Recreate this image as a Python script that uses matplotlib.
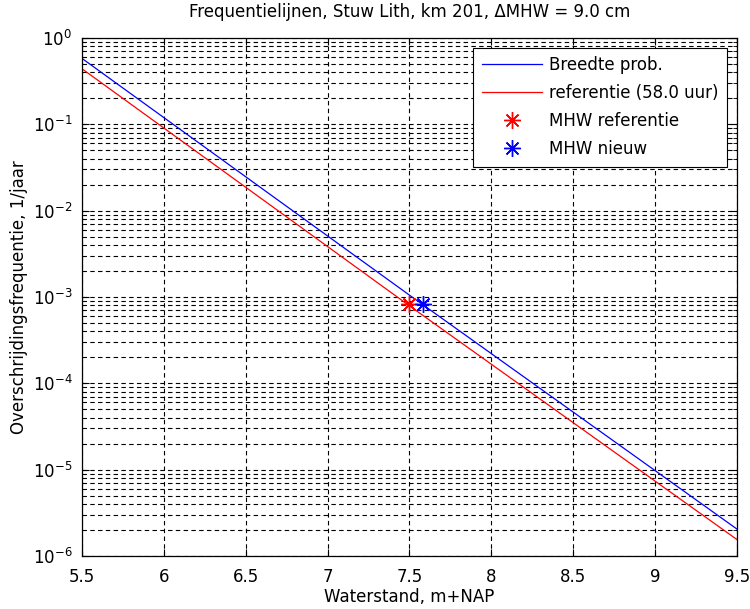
import matplotlib
matplotlib.use("Agg")
import matplotlib.pyplot as plt
from matplotlib.ticker import LogLocator, FixedLocator, NullFormatter

plt.rcParams['font.family'] = ['DejaVu Sans']
plt.rcParams['mathtext.fontset'] = 'dejavusans'

# Data
waterstand = [5.5, 7.5, 9.5]
breedte_prob = [0.58, 1.05e-3, 2.05e-6]
referentie = [0.44, 7.9e-4, 1.55e-6]
mhw_ref_x = [7.5]
mhw_ref_y = [8.4e-4]
mhw_new_x = [7.585]
mhw_new_y = [8.4e-4]
xticks = [5.5, 6, 6.5, 7, 7.5, 8, 8.5, 9, 9.5]

FS = 12

fig = plt.figure(figsize=(7.5, 6.09), dpi=100)
ax = fig.add_axes([82 / 750, 1 - 556 / 609, 655 / 750, 518 / 609])

ax.semilogy(waterstand, breedte_prob, color='#0000ff', lw=0.9, label='Breedte prob.')
ax.semilogy(waterstand, referentie, color='#ff0000', lw=0.9, label='referentie (58.0 uur)')
ax.plot(mhw_ref_x, mhw_ref_y, ls='none', marker=(8, 2, 0), ms=12, mew=1.0,
        color='#ff0000', label='MHW referentie')
ax.plot(mhw_new_x, mhw_new_y, ls='none', marker=(8, 2, 0), ms=12, mew=1.0,
        color='#0000ff', label='MHW nieuw')

ax.set_xlim(5.5, 9.5)
ax.set_ylim(1e-6, 1)
ax.xaxis.set_major_locator(FixedLocator(xticks))
ax.set_xticklabels([('%g' % v) for v in xticks])
ax.yaxis.set_major_locator(LogLocator(base=10, numticks=10))
ax.yaxis.set_minor_locator(LogLocator(base=10, subs=range(2, 10), numticks=20))
ax.yaxis.set_minor_formatter(NullFormatter())
ax.xaxis.offsetText.set_visible(False)
ax.yaxis.offsetText.set_visible(False)

ax.grid(True, which='major', axis='both', color='black', ls=(0, (4, 3)), lw=0.8)
ax.grid(True, which='minor', axis='y', color='black', ls=(0, (4, 3)), lw=0.8)

ax.tick_params(which='both', direction='in', top=True, right=True, labelsize=FS, color='black')
ax.tick_params(which='major', length=5)
ax.tick_params(which='minor', length=3)
ax.tick_params(axis='x', which='major', pad=9)
ax.tick_params(axis='y', which='major', pad=7)
for s in ax.spines.values():
    s.set_linewidth(0.9)

ax.set_xlabel('Waterstand, m+NAP', fontsize=FS, labelpad=1)
ax.set_ylabel('Overschrijdingsfrequentie, 1/jaar', fontsize=FS, labelpad=3)
ax.set_title('Frequentielijnen, Stuw Lith, km 201, \u0394MHW = 9.0 cm', fontsize=FS, pad=15)

leg = ax.legend(loc='upper right', fontsize=FS, frameon=True, fancybox=False,
                edgecolor='black', framealpha=1, borderaxespad=0.6,
                handlelength=3.6, handletextpad=0.45, labelspacing=0.6, borderpad=0.5)
leg.get_frame().set_linewidth(0.8)

fig.savefig('out.png', dpi=100)
